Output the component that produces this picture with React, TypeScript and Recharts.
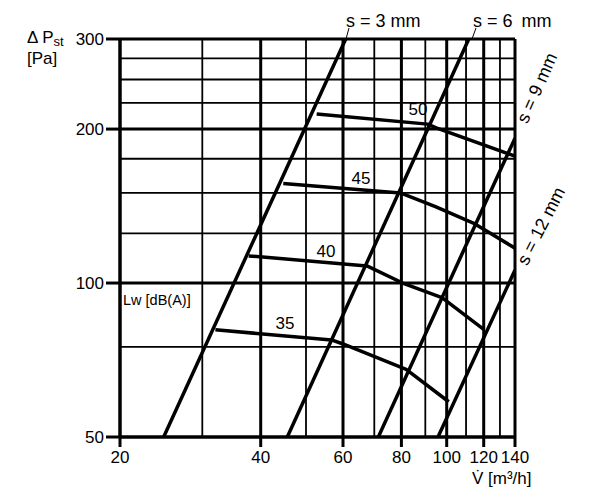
import React from "react";
import { LineChart, Line, XAxis, YAxis, ReferenceLine } from "recharts";

// axis ticks and grid values
const xTicks = [20, 40, 60, 80, 100, 120, 140];
const yTicks = [50, 100, 200, 300];
const xGridThin = [30, 50, 70, 90, 110, 130];
const xGridThick = [40, 60, 80, 100, 120];
const yGridThin = [75, 125, 150, 175, 225, 250, 275];
const yGridThick = [100, 200];

// slot width lines (m3/h, Pa)
const s3 = [{ x: 24.8, y: 50 }, { x: 60.8, y: 300 }];
const s6 = [{ x: 45.6, y: 50 }, { x: 111.5, y: 300 }];
const s9 = [{ x: 71.4, y: 50 }, { x: 140, y: 192 }];
const s12 = [{ x: 95.8, y: 50 }, { x: 140, y: 106 }];

// sound power curves Lw [dB(A)]
const lw50 = [
  { x: 52.7, y: 214 },
  { x: 91, y: 204.5 },
  { x: 95, y: 201 },
  { x: 140, y: 177 },
];
const lw45 = [
  { x: 44.7, y: 156.5 },
  { x: 79.6, y: 150 },
  { x: 94.6, y: 141 },
  { x: 114, y: 131 },
  { x: 140, y: 117 },
];
const lw40 = [
  { x: 37.7, y: 113 },
  { x: 67.5, y: 108 },
  { x: 80.5, y: 100 },
  { x: 97.7, y: 93.6 },
  { x: 120, y: 81.2 },
];
const lw35 = [
  { x: 32, y: 81 },
  { x: 56.7, y: 77.4 },
  { x: 60, y: 76 },
  { x: 81.9, y: 67.8 },
  { x: 101, y: 58.6 },
];

const font = "'Liberation Sans', Arial, Helvetica, sans-serif";

export default function App() {
  const series = [s3, s6, s9, s12, lw50, lw45, lw40, lw35];
  return (
    <div style={{ position: "absolute", left: 0, top: 0, width: 600, height: 499, background: "#fff" }}>
      <LineChart width={600} height={499} margin={{ top: 39, right: 85, bottom: 0, left: 0 }}>
        <XAxis
          type="number"
          dataKey="x"
          scale="log"
          domain={[20, 140]}
          ticks={xTicks}
          height={62}
          axisLine={false}
          tickSize={10}
          tickMargin={4}
          tickLine={{ stroke: "#000", strokeWidth: 3 }}
          tick={{ fill: "#000", fontSize: 17, fontFamily: font }}
          allowDataOverflow
        />
        <YAxis
          type="number"
          dataKey="y"
          scale="log"
          domain={[50, 300]}
          ticks={yTicks}
          width={120}
          axisLine={false}
          tickSize={14}
          tickMargin={2}
          tickLine={{ stroke: "#000", strokeWidth: 3 }}
          tick={{ fill: "#000", fontSize: 17, fontFamily: font }}
          allowDataOverflow
        />
        {xGridThin.map((v) => (
          <ReferenceLine key={"xt" + v} x={v} stroke="#000" strokeWidth={1.8} />
        ))}
        {yGridThin.map((v) => (
          <ReferenceLine key={"yt" + v} y={v} stroke="#000" strokeWidth={1.8} />
        ))}
        {xGridThick.map((v) => (
          <ReferenceLine key={"xk" + v} x={v} stroke="#000" strokeWidth={3} />
        ))}
        {yGridThick.map((v) => (
          <ReferenceLine key={"yk" + v} y={v} stroke="#000" strokeWidth={3} />
        ))}
        <ReferenceLine x={20} stroke="#000" strokeWidth={3.5} />
        <ReferenceLine x={140} stroke="#000" strokeWidth={3} />
        <ReferenceLine y={50} stroke="#000" strokeWidth={3.5} />
        <ReferenceLine y={300} stroke="#000" strokeWidth={3} />
        {series.map((d, i) => (
          <Line
            key={i}
            data={d}
            dataKey="y"
            stroke="#000"
            strokeWidth={3.5}
            strokeLinejoin="round"
            dot={false}
            type="linear"
            isAnimationActive={false}
          />
        ))}
      </LineChart>
      <svg
        width={600}
        height={499}
        style={{ position: "absolute", left: 0, top: 0, pointerEvents: "none" }}
        fontFamily={font}
        fill="#000"
      >
        <text x={27} y={43} fontSize={17}>
          Δ P<tspan fontSize={13} dy={3}>st</tspan>
        </text>
        <text x={27} y={64} fontSize={17}>[Pa]</text>
        <text x={346} y={27} fontSize={18}>s = 3 mm</text>
        <text x={473} y={27} fontSize={18}>
          s = 6<tspan dx={9}>mm</tspan>
        </text>
        <line x1={349} y1={28} x2={346} y2={39} stroke="#000" strokeWidth={1} />
        <line x1={476} y1={28} x2={472} y2={39} stroke="#000" strokeWidth={1} />
        <text x={537} y={88} fontSize={18} textAnchor="middle" dominantBaseline="central" transform="rotate(-66 537 88)">
          s = 9 mm
        </text>
        <text x={541} y={226} fontSize={18} textAnchor="middle" dominantBaseline="central" transform="rotate(-63 541 226)">
          s = 12 mm
        </text>
        <text x={418} y={115} fontSize={17} textAnchor="middle">50</text>
        <text x={361} y={184} fontSize={17} textAnchor="middle">45</text>
        <text x={326} y={257} fontSize={17} textAnchor="middle">40</text>
        <text x={285} y={329} fontSize={17} textAnchor="middle">35</text>
        <text x={123} y={305} fontSize={14.5}>Lw [dB(A)]</text>
        <text x={472} y={484} fontSize={17}>V̇ [m³/h]</text>
      </svg>
    </div>
  );
}
